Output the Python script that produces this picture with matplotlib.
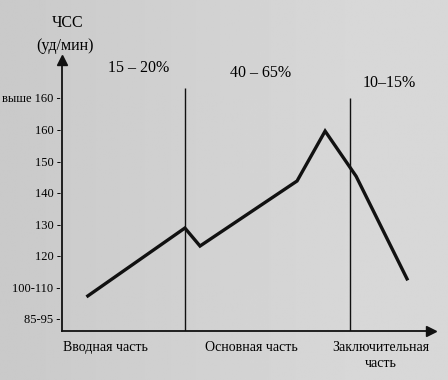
import numpy as np
import matplotlib
matplotlib.use('Agg')
import matplotlib.pyplot as plt

# ── данные ─────────────────────────────────────────────
hr_labels = ['85-95 -', '100-110 -', '120 -', '130 -', '140 -', '150 -', '160 -', 'выше 160 -']
# время занятия (условные единицы 0..100), ЧСС как позиция на оси (индекс метки)
curve_t = [7.0, 33.3, 37.4, 63.7, 71.3, 79.7, 93.5]
curve_hr = [0.73, 2.88, 2.31, 4.37, 5.95, 4.52, 1.27]
phase_bounds = [33.3, 78.0]
phase_tops = [7.31, 7.0]
share_labels = ['15 – 20%', '40 – 65%', '10–15%']
share_x = [20.8, 53.9, 88.6]
share_y = [7.95, 7.8, 7.48]
part_labels = ['Вводная часть', 'Основная часть', 'Заключительная\nчасть']
part_x = [11.9, 51.2, 86.4]

plt.rcParams['font.family'] = ['Liberation Serif', 'DejaVu Serif']

fig = plt.figure(figsize=(4.48, 3.8), dpi=100)
bg_color = '#d4d5d9'
fig.patch.set_facecolor(bg_color)

# лёгкое затемнение слева, как на фото
bg = fig.add_axes([0, 0, 1, 1], zorder=-1)
grad = np.minimum(np.linspace(0.79, 0.86, 256), 0.845)
bg.imshow(np.tile(grad, (2, 1)), cmap='gray', vmin=0, vmax=1, aspect='auto',
          extent=[0, 1, 0, 1])
bg.axis('off')

ax = fig.add_axes([0.1384, 0.129, 0.8237, 0.713])
ax.patch.set_alpha(0)
ax.set_xlim(0, 100)
ax.set_ylim(-0.38, 8.2)

for s in ['top', 'right']:
    ax.spines[s].set_visible(False)
for s in ['left', 'bottom']:
    ax.spines[s].set_linewidth(1.3)
    ax.spines[s].set_color('#111111')

ax.plot(0, 1, marker='^', color='#111111', markersize=7,
        transform=ax.transAxes, clip_on=False)
ax.plot(1, 0, marker='>', color='#111111', markersize=7,
        transform=ax.transAxes, clip_on=False)

ax.set_xticks([])
ax.set_yticks(range(len(hr_labels)))
ax.set_yticklabels(hr_labels, fontsize=9)
ax.tick_params(axis='y', length=0, pad=1)

for xb, top in zip(phase_bounds, phase_tops):
    ax.vlines(xb, -0.38, top, color='#111111', linewidth=1.0)

ax.plot(curve_t, curve_hr, color='#111111', linewidth=2.4, solid_joinstyle='miter')

for lbl, x, y in zip(share_labels, share_x, share_y):
    ax.text(x, y, lbl, ha='center', va='center', fontsize=11.5)

for lbl, x in zip(part_labels, part_x):
    ax.text(x, -0.7, lbl, ha='center', va='top', fontsize=10,
            linespacing=1.3, clip_on=False)

fig.text(0.15, 0.94, 'ЧСС', ha='center', va='center', fontsize=11.5)
fig.text(0.145, 0.88, '(уд/мин)', ha='center', va='center', fontsize=11.5)

fig.savefig('out.png', dpi=100, facecolor=fig.get_facecolor())
